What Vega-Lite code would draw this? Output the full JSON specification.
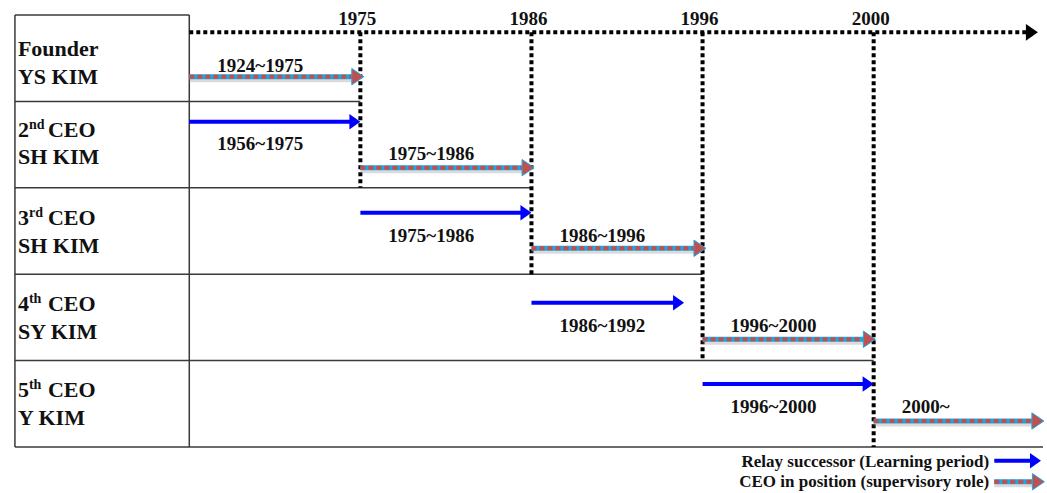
{
  "$schema": "https://vega.github.io/schema/vega-lite/v6.json",
  "width": 1047,
  "height": 493,
  "autosize": {"type": "fit", "contains": "padding"},
  "padding": 0,
  "background": "white",
  "config": {"view": {"stroke": null}, "font": "'Liberation Serif', 'Times New Roman', serif", "text": {"font": "'Liberation Serif', 'Times New Roman', serif", "fontWeight": "bold", "color": "#111"}},
  "datasets": {
    "table": [
      {"x": -1.019, "x2": 0, "y": 0, "y2": 0},
      {"x": -1.019, "x2": 1, "y": 1, "y2": 1},
      {"x": -1.019, "x2": 2, "y": 2, "y2": 2},
      {"x": -1.019, "x2": 3, "y": 3, "y2": 3},
      {"x": -1.019, "x2": 4, "y": 4, "y2": 4},
      {"x": -1.019, "x2": 4.99, "y": 5, "y2": 5},
      {"x": -1.019, "x2": -1.019, "y": 0, "y2": 5},
      {"x": 0, "x2": 0, "y": 0, "y2": 5}
    ],
    "years": [
      {"slot": 1, "year": "1975", "top": 0.2, "bottom": 2, "ly": 0.116},
      {"slot": 2, "year": "1986", "top": 0.2, "bottom": 3, "ly": 0.116},
      {"slot": 3, "year": "1996", "top": 0.2, "bottom": 4, "ly": 0.116},
      {"slot": 4, "year": "2000", "top": 0.2, "bottom": 5, "ly": 0.116}
    ],
    "axisline": [{"start": 0, "end": 4.96, "y": 0.2}],
    "arrows": [
      {"kind": "relay", "start": 0, "end": 1.0, "y": 1.235, "label": "1956~1975", "ly": 1.562},
      {"kind": "relay", "start": 1, "end": 2.0, "y": 2.288, "label": "1975~1986", "ly": 2.624},
      {"kind": "relay", "start": 2, "end": 2.892, "y": 3.33, "label": "1986~1992", "ly": 3.666},
      {"kind": "relay", "start": 3, "end": 4.0, "y": 4.271, "label": "1996~2000", "ly": 4.603},
      {"kind": "ceo", "start": 0, "end": 1.02, "y": 0.714, "label": "1924~1975", "ly": 0.66},
      {"kind": "ceo", "start": 1, "end": 2.015, "y": 1.767, "label": "1975~1986", "ly": 1.678},
      {"kind": "ceo", "start": 2, "end": 3.02, "y": 2.7, "label": "1986~1996", "ly": 2.624},
      {"kind": "ceo", "start": 3, "end": 4.01, "y": 3.753, "label": "1996~2000", "ly": 3.666},
      {"kind": "ceo", "start": 4, "end": 4.995, "y": 4.699, "label": "2000~", "ly": 4.603},
      {"kind": "relay", "start": 4.705, "end": 4.978, "y": 5.159, "label": null, "ly": null},
      {"kind": "ceo", "start": 4.705, "end": 4.998, "y": 5.402, "label": null, "ly": null}
    ],
    "legend": [
      {"text": "Relay successor (Learning period)", "x": 4.675, "y": 5.228},
      {"text": "CEO in position (supervisory role)", "x": 4.675, "y": 5.459}
    ],
    "names": [
      {"x": -1.019, "first": "Founder", "num": null, "sup": null, "word": null, "second": "YS KIM", "y1": 0.475, "y2": 0.799},
      {"x": -1.019, "first": null, "num": "2", "sup": "nd", "word": "CEO", "second": "SH KIM", "y1": 1.409, "y2": 1.725},
      {"x": -1.019, "first": null, "num": "3", "sup": "rd", "word": "CEO", "second": "SH KIM", "y1": 2.431, "y2": 2.751},
      {"x": -1.019, "first": null, "num": "4", "sup": "th", "word": "\u00a0CEO", "second": "SY KIM", "y1": 3.426, "y2": 3.754},
      {"x": -1.019, "first": null, "num": "5", "sup": "th", "word": "CEO", "second": "Y KIM", "y1": 4.418, "y2": 4.745}
    ]
  },
  "layer": [
    {
      "data": {"name": "table"},
      "mark": {"type": "rule", "stroke": "#3a3a3a", "strokeWidth": 1.5},
      "encoding": {
        "x": {"field": "x", "type": "quantitative", "axis": null, "scale": {"domain": [-1.1063, 4.9898], "nice": false, "zero": false}},
        "x2": {"field": "x2"},
        "y": {"field": "y", "type": "quantitative", "axis": null, "scale": {"domain": [-0.1736, 5.5324], "nice": false, "zero": false, "reverse": true}},
        "y2": {"field": "y2"}
      }
    },
    {
      "data": {"name": "years"},
      "mark": {"type": "rule", "stroke": "black", "strokeWidth": 4, "strokeDash": [4, 3]},
      "encoding": {
        "x": {"field": "slot", "type": "quantitative", "axis": null, "scale": {"domain": [-1.1063, 4.9898], "nice": false, "zero": false}},
        "y": {"field": "top", "type": "quantitative", "axis": null, "scale": {"domain": [-0.1736, 5.5324], "nice": false, "zero": false, "reverse": true}},
        "y2": {"field": "bottom"}
      }
    },
    {
      "data": {"name": "axisline"},
      "mark": {"type": "rule", "stroke": "black", "strokeWidth": 4, "strokeDash": [4, 3], "x2Offset": -8},
      "encoding": {
        "x": {"field": "start", "type": "quantitative", "axis": null, "scale": {"domain": [-1.1063, 4.9898], "nice": false, "zero": false}},
        "x2": {"field": "end"},
        "y": {"field": "y", "type": "quantitative", "axis": null, "scale": {"domain": [-0.1736, 5.5324], "nice": false, "zero": false, "reverse": true}}
      }
    },
    {
      "data": {"name": "axisline"},
      "mark": {"type": "point", "shape": "M-1,-0.7L0,0L-1,0.7Z", "size": 576, "filled": true, "color": "black", "opacity": 1},
      "encoding": {
        "x": {"field": "end", "type": "quantitative", "axis": null, "scale": {"domain": [-1.1063, 4.9898], "nice": false, "zero": false}},
        "y": {"field": "y", "type": "quantitative", "axis": null, "scale": {"domain": [-0.1736, 5.5324], "nice": false, "zero": false, "reverse": true}}
      }
    },
    {
      "data": {"name": "years"},
      "mark": {"type": "text", "fontSize": 19, "align": "center", "baseline": "alphabetic", "dx": -3},
      "encoding": {
        "x": {"field": "slot", "type": "quantitative", "axis": null, "scale": {"domain": [-1.1063, 4.9898], "nice": false, "zero": false}},
        "y": {"field": "ly", "type": "quantitative", "axis": null, "scale": {"domain": [-0.1736, 5.5324], "nice": false, "zero": false, "reverse": true}},
        "text": {"field": "year"}
      }
    },
    {
      "data": {"name": "arrows"},
      "transform": [{"filter": "datum.kind === 'relay'"}],
      "mark": {"type": "rule", "stroke": "#0000ff", "strokeWidth": 4, "x2Offset": -7},
      "encoding": {
        "x": {"field": "start", "type": "quantitative", "axis": null, "scale": {"domain": [-1.1063, 4.9898], "nice": false, "zero": false}},
        "x2": {"field": "end"},
        "y": {"field": "y", "type": "quantitative", "axis": null, "scale": {"domain": [-0.1736, 5.5324], "nice": false, "zero": false, "reverse": true}}
      }
    },
    {
      "data": {"name": "arrows"},
      "transform": [{"filter": "datum.kind === 'relay'"}],
      "mark": {"type": "point", "shape": "M-1,-0.7L0,0L-1,0.7Z", "size": 484, "filled": true, "color": "#0000ff", "opacity": 1},
      "encoding": {
        "x": {"field": "end", "type": "quantitative", "axis": null, "scale": {"domain": [-1.1063, 4.9898], "nice": false, "zero": false}},
        "y": {"field": "y", "type": "quantitative", "axis": null, "scale": {"domain": [-0.1736, 5.5324], "nice": false, "zero": false, "reverse": true}}
      }
    },
    {
      "data": {"name": "arrows"},
      "transform": [{"filter": "datum.kind === 'ceo'"}],
      "mark": {"type": "rule", "stroke": "#888", "strokeOpacity": 0.3, "strokeWidth": 5, "yOffset": 3, "x2Offset": -8},
      "encoding": {
        "x": {"field": "start", "type": "quantitative", "axis": null, "scale": {"domain": [-1.1063, 4.9898], "nice": false, "zero": false}},
        "x2": {"field": "end"},
        "y": {"field": "y", "type": "quantitative", "axis": null, "scale": {"domain": [-0.1736, 5.5324], "nice": false, "zero": false, "reverse": true}}
      }
    },
    {
      "data": {"name": "arrows"},
      "transform": [{"filter": "datum.kind === 'ceo'"}],
      "mark": {"type": "rule", "stroke": "#1aa9e6", "strokeWidth": 5, "x2Offset": -8},
      "encoding": {
        "x": {"field": "start", "type": "quantitative", "axis": null, "scale": {"domain": [-1.1063, 4.9898], "nice": false, "zero": false}},
        "x2": {"field": "end"},
        "y": {"field": "y", "type": "quantitative", "axis": null, "scale": {"domain": [-0.1736, 5.5324], "nice": false, "zero": false, "reverse": true}}
      }
    },
    {
      "data": {"name": "arrows"},
      "transform": [{"filter": "datum.kind === 'ceo'"}],
      "mark": {"type": "rule", "stroke": "#c0504d", "strokeWidth": 4, "strokeDash": [5, 3], "x2Offset": -8},
      "encoding": {
        "x": {"field": "start", "type": "quantitative", "axis": null, "scale": {"domain": [-1.1063, 4.9898], "nice": false, "zero": false}},
        "x2": {"field": "end"},
        "y": {"field": "y", "type": "quantitative", "axis": null, "scale": {"domain": [-0.1736, 5.5324], "nice": false, "zero": false, "reverse": true}}
      }
    },
    {
      "data": {"name": "arrows"},
      "transform": [{"filter": "datum.kind === 'ceo'"}],
      "mark": {"type": "point", "shape": "M-1,-0.68L0,0L-1,0.68Z", "size": 576, "filled": true, "fill": "#c0504d", "stroke": "#1aa9e6", "strokeWidth": 1, "opacity": 1},
      "encoding": {
        "x": {"field": "end", "type": "quantitative", "axis": null, "scale": {"domain": [-1.1063, 4.9898], "nice": false, "zero": false}},
        "y": {"field": "y", "type": "quantitative", "axis": null, "scale": {"domain": [-0.1736, 5.5324], "nice": false, "zero": false, "reverse": true}}
      }
    },
    {
      "data": {"name": "arrows"},
      "transform": [{"filter": "datum.label != null"}],
      "mark": {"type": "text", "fontSize": 19, "align": "left", "baseline": "alphabetic", "dx": 28},
      "encoding": {
        "x": {"field": "start", "type": "quantitative", "axis": null, "scale": {"domain": [-1.1063, 4.9898], "nice": false, "zero": false}},
        "y": {"field": "ly", "type": "quantitative", "axis": null, "scale": {"domain": [-0.1736, 5.5324], "nice": false, "zero": false, "reverse": true}},
        "text": {"field": "label"}
      }
    },
    {
      "data": {"name": "legend"},
      "mark": {"type": "text", "fontSize": 17, "align": "right", "baseline": "alphabetic"},
      "encoding": {
        "x": {"field": "x", "type": "quantitative", "axis": null, "scale": {"domain": [-1.1063, 4.9898], "nice": false, "zero": false}},
        "y": {"field": "y", "type": "quantitative", "axis": null, "scale": {"domain": [-0.1736, 5.5324], "nice": false, "zero": false, "reverse": true}},
        "text": {"field": "text"}
      }
    },
    {
      "data": {"name": "names"},
      "transform": [{"filter": "datum.first != null"}],
      "mark": {"type": "text", "fontSize": 22, "align": "left", "baseline": "alphabetic", "dx": 3},
      "encoding": {
        "x": {"field": "x", "type": "quantitative", "axis": null, "scale": {"domain": [-1.1063, 4.9898], "nice": false, "zero": false}},
        "y": {"field": "y1", "type": "quantitative", "axis": null, "scale": {"domain": [-0.1736, 5.5324], "nice": false, "zero": false, "reverse": true}},
        "text": {"field": "first"}
      }
    },
    {
      "data": {"name": "names"},
      "transform": [{"filter": "datum.num != null"}],
      "mark": {"type": "text", "fontSize": 22, "align": "left", "baseline": "alphabetic", "dx": 3},
      "encoding": {
        "x": {"field": "x", "type": "quantitative", "axis": null, "scale": {"domain": [-1.1063, 4.9898], "nice": false, "zero": false}},
        "y": {"field": "y1", "type": "quantitative", "axis": null, "scale": {"domain": [-0.1736, 5.5324], "nice": false, "zero": false, "reverse": true}},
        "text": {"field": "num"}
      }
    },
    {
      "data": {"name": "names"},
      "transform": [{"filter": "datum.sup != null"}],
      "mark": {"type": "text", "fontSize": 14, "align": "left", "baseline": "alphabetic", "dx": 14, "dy": -8},
      "encoding": {
        "x": {"field": "x", "type": "quantitative", "axis": null, "scale": {"domain": [-1.1063, 4.9898], "nice": false, "zero": false}},
        "y": {"field": "y1", "type": "quantitative", "axis": null, "scale": {"domain": [-0.1736, 5.5324], "nice": false, "zero": false, "reverse": true}},
        "text": {"field": "sup"}
      }
    },
    {
      "data": {"name": "names"},
      "transform": [{"filter": "datum.word != null"}],
      "mark": {"type": "text", "fontSize": 22, "align": "left", "baseline": "alphabetic", "dx": 33},
      "encoding": {
        "x": {"field": "x", "type": "quantitative", "axis": null, "scale": {"domain": [-1.1063, 4.9898], "nice": false, "zero": false}},
        "y": {"field": "y1", "type": "quantitative", "axis": null, "scale": {"domain": [-0.1736, 5.5324], "nice": false, "zero": false, "reverse": true}},
        "text": {"field": "word"}
      }
    },
    {
      "data": {"name": "names"},
      "mark": {"type": "text", "fontSize": 22, "align": "left", "baseline": "alphabetic", "dx": 3},
      "encoding": {
        "x": {"field": "x", "type": "quantitative", "axis": null, "scale": {"domain": [-1.1063, 4.9898], "nice": false, "zero": false}},
        "y": {"field": "y2", "type": "quantitative", "axis": null, "scale": {"domain": [-0.1736, 5.5324], "nice": false, "zero": false, "reverse": true}},
        "text": {"field": "second"}
      }
    }
  ]
}
